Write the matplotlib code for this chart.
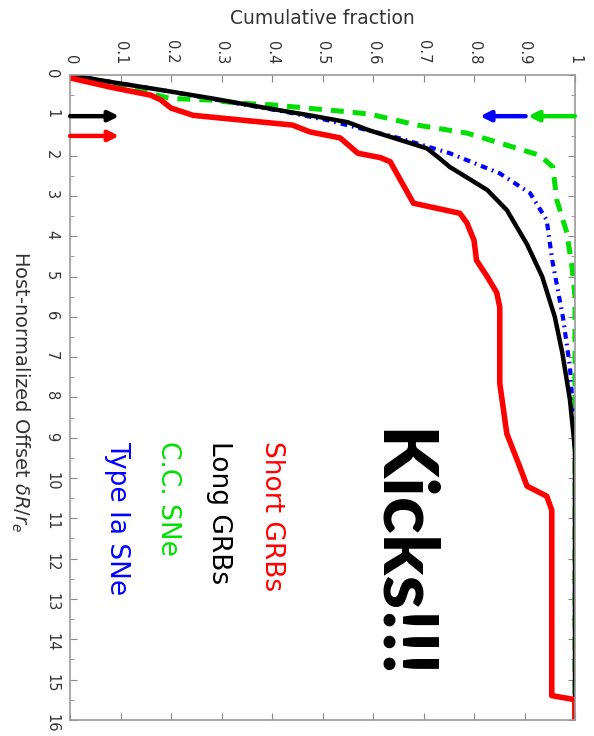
import matplotlib
matplotlib.use("Agg")
import matplotlib.pyplot as plt

# --- Data (offset in units of host r_e, cumulative fraction) ---
short_offset = [0, 0.07, 0.3, 0.5, 0.62, 0.82, 1.0, 1.24, 1.41, 1.56, 1.94, 2.05, 2.15,
                3.18, 3.43, 3.67, 4.1, 4.6, 5.0, 5.4, 5.76, 7.65, 8.9, 9.7, 10.2,
                10.45, 10.8, 15.4, 15.5, 16]
short_frac = [0, 0.0, 0.08, 0.16, 0.18, 0.2, 0.244, 0.44, 0.475, 0.535, 0.57, 0.615, 0.634,
              0.68, 0.772, 0.786, 0.8, 0.805, 0.826, 0.845, 0.851, 0.851, 0.865, 0.89, 0.905,
              0.944, 0.954, 0.954, 1.0, 1.0]

long_offset = [0, 0.17, 0.37, 0.57, 0.79, 1.0, 1.17, 1.36, 1.82, 2.05, 2.28, 2.85, 3.35,
               4.2, 5.0, 6.0, 6.9, 8.06, 9.3, 16]
long_frac = [0, 0.08, 0.18, 0.277, 0.376, 0.475, 0.55, 0.59, 0.707, 0.73, 0.752, 0.826, 0.865,
             0.905, 0.935, 0.96, 0.975, 0.99, 1.0, 1.0]

cc_offset = [0, 0.2, 0.58, 0.62, 0.70, 0.74, 0.82, 0.9, 0.97, 1.24, 1.44, 1.74, 1.99,
             2.28, 3.1, 3.92, 4.76, 5.5, 16]
cc_frac = [0, 0.08, 0.198, 0.277, 0.337, 0.402, 0.469, 0.54, 0.594, 0.687, 0.786, 0.865, 0.93,
           0.956, 0.964, 0.984, 0.994, 1.0, 1.0]

ia_offset = [0, 0.17, 0.37, 0.92, 1.12, 1.57, 1.94, 2.44, 2.93, 3.6, 4.6, 6.0, 7.24,
             8.5, 9.5, 16]
ia_frac = [0, 0.08, 0.18, 0.43, 0.51, 0.653, 0.752, 0.851, 0.911, 0.944, 0.955, 0.976, 0.99,
           0.997, 1.0, 1.0]

# median arrows: (start fraction, end fraction, offset)
arrow_start = [0.0, 0.0, 0.902, 1.0]
arrow_end = [0.097, 0.097, 0.812, 0.907]
arrow_offset = [1.02, 1.51, 1.02, 1.02]
arrow_colors = ['black', 'red', 'blue', '#00e000']

x_ticks = [0, 0.1, 0.2, 0.3, 0.4, 0.5, 0.6, 0.7, 0.8, 0.9, 1]
x_labels = ['0', '0.1', '0.2', '0.3', '0.4', '0.5', '0.6', '0.7', '0.8', '0.9', '1']
y_ticks = list(range(17))

labels = ['Short GRBs', 'Long GRBs', 'C.C. SNe', 'Type Ia SNe']
label_colors = ['red', 'black', '#00e000', 'blue']
label_x = [0.40, 0.295, 0.194, 0.093]

# --- Plot (figure drawn rotated: fraction along top, offset going down) ---
fig = plt.figure(figsize=(5.94, 7.36), dpi=100)
ax = fig.add_axes([0.118, 0.022, 0.85, 0.876])

ax.plot(ia_frac, ia_offset, color='blue', lw=3, linestyle=(0, (1.6, 1.2, 0.4, 1.2)))
ax.plot(cc_frac, cc_offset, color='#00e000', lw=3.6, linestyle=(0, (2.6, 1.8)))
ax.plot(long_frac, long_offset, color='black', lw=3.2, solid_joinstyle='round')
ax.plot(short_frac, short_offset, color='red', lw=4, solid_joinstyle='round')

for x0, x1, y, c in zip(arrow_start, arrow_end, arrow_offset, arrow_colors):
    ax.annotate('', xy=(x1, y), xytext=(x0, y),
                arrowprops=dict(arrowstyle='-|>', color=c, lw=3.2, mutation_scale=15,
                                shrinkA=0, shrinkB=0))

ax.set_xlim(0, 1)
ax.set_ylim(16, 0)
ax.set_xticks(x_ticks)
ax.set_xticklabels(x_labels)
ax.set_yticks(y_ticks)
ax.set_yticks([i + 0.5 for i in range(16)], minor=True)
ax.tick_params(which='both', direction='in', top=True, bottom=True, left=True, right=True,
               labeltop=True, labelbottom=False, color='#888888')
ax.tick_params(which='major', length=5, pad=8, labelsize=10.5, labelcolor='#333333')
ax.tick_params(which='minor', length=3)
for lab in ax.get_xticklabels() + ax.get_yticklabels():
    lab.set_rotation(-90)
for s in ax.spines.values():
    s.set_color('#999999')
    s.set_linewidth(1.2)

fig.text(322 / 594, 1 - 18 / 736, 'Cumulative fraction', ha='center', va='center',
         fontsize=13.5, color='#333333')
fig.text(20 / 594, 1 - 392 / 736, 'Host-normalized Offset $\\delta R/r_e$', ha='center',
         va='center', rotation=-90, fontsize=14, color='#333333')

for txt, c, x in zip(labels, label_colors, label_x):
    ax.text(x, 9.08, txt, color=c, rotation=-90, ha='center', va='top', fontsize=19)

ax.text(0.653, 11.9, 'Kicks!!!', rotation=-90, ha='center', va='center', fontsize=55,
        fontweight='black', family=['Lato', 'DejaVu Sans'])

fig.savefig('out.png', dpi=100)
